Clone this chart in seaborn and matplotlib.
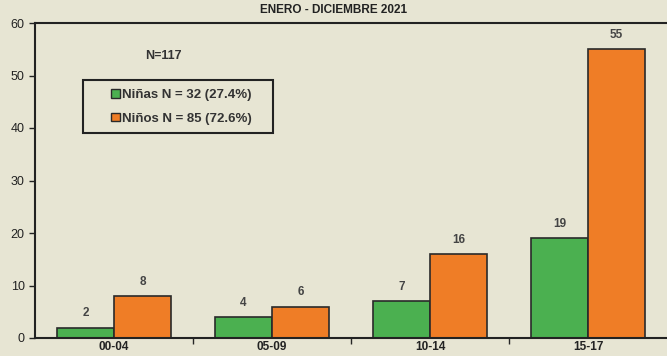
import matplotlib
matplotlib.use("Agg")
import matplotlib.pyplot as plt
import seaborn as sns
import pandas as pd
from matplotlib.patches import Patch, Rectangle

grupos = ["00-04", "05-09", "10-14", "15-17"]
ninas = [2, 4, 7, 19]
ninos = [8, 6, 16, 55]
series = ["Niñas N = 32 (27.4%)", "Niños N = 85 (72.6%)"]
colores = ["#4BB050", "#EF7D26"]
bg = "#E7E5D3"

df = pd.DataFrame({
    "grupo": grupos * 2,
    "valor": ninas + ninos,
    "sexo": [series[0]] * 4 + [series[1]] * 4,
})

sns.set_style("white")
plt.rcParams['font.family'] = ['Liberation Sans', 'DejaVu Sans']

fig = plt.figure(figsize=(6.67, 3.56), dpi=100, facecolor=bg)
ax = fig.add_axes([35 / 667, 1 - 338 / 356, 1 - 35 / 667, (338 - 23) / 356])
ax.set_facecolor(bg)

sns.barplot(data=df, x="grupo", y="valor", hue="sexo", palette=colores,
            width=0.72, edgecolor="#2a2a2a", linewidth=1.2, ax=ax,
            legend=False, saturation=1)

for cont in ax.containers:
    ax.bar_label(cont, padding=6, fontsize=8.5, fontweight="bold", color="#444444")

ax.set_ylim(0, 60)
ax.set_xlim(-0.5, 3.5)
ax.set_yticks(range(0, 61, 10))
ax.set_xlabel("")
ax.set_ylabel("")
ax.tick_params(axis="y", labelsize=9, colors="#222222", length=4, width=1, direction="out", left=True)
ax.tick_params(axis="x", which="major", length=0, labelsize=8.5, pad=2)
for lab in ax.get_xticklabels():
    lab.set_fontweight("bold")
    lab.set_color("#222222")
ax.set_xticks([0.5, 1.5, 2.5], minor=True)
ax.tick_params(axis="x", which="minor", length=4, width=1, direction="out", bottom=True)

for s in ["left", "bottom", "top"]:
    ax.spines[s].set_color("#222222")
    ax.spines[s].set_linewidth(1.5)
ax.spines["right"].set_visible(False)

fig.text(0.5, 1 - 10 / 356, "ENERO - DICIEMBRE 2021", ha="center", va="center",
         fontsize=8.5, fontweight="bold", color="#222222")
ax.text(128 / 632, (338 - 56) / 315, "N=117", transform=ax.transAxes, ha="center", va="center",
        fontsize=9, fontweight="bold", color="#333333")

# caja de la leyenda
ax.add_patch(Rectangle((48 / 632, (338 - 133) / 315), 190 / 632, 53 / 315,
                       transform=ax.transAxes, facecolor="none", edgecolor="#222222",
                       linewidth=1.5, zorder=5))
handles = [Patch(facecolor=c, edgecolor="#2a2a2a", label=s) for c, s in zip(colores, series)]
leg = ax.legend(handles=handles, loc="center left", bbox_to_anchor=(76 / 632, (338 - 107) / 315),
                frameon=False, handlelength=0.65, handleheight=0.65,
                handletextpad=0.15, labelspacing=0.85, borderpad=0, borderaxespad=0,
                prop={"weight": "bold", "size": 9.5})
for t in leg.get_texts():
    t.set_color("#333333")

fig.savefig("out.png", dpi=100, facecolor=bg)
